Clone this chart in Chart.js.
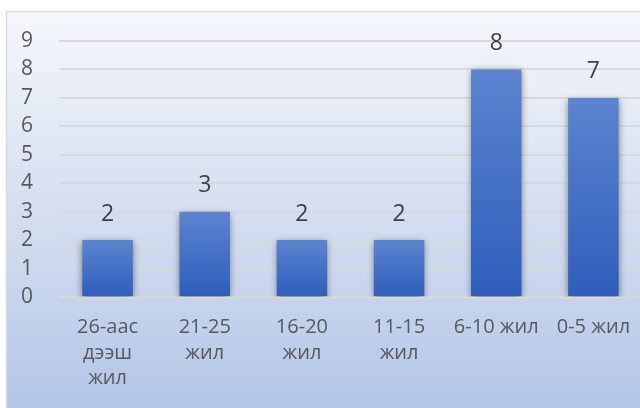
<!DOCTYPE html>
<html>
<head>
<meta charset="utf-8">
<script src="https://cdn.jsdelivr.net/npm/chart.js"></script>
<style>
  html, body { margin: 0; padding: 0; background: #fff; overflow: hidden; }
  #wrap { width: 640px; height: 408px; overflow: hidden; }
</style>
</head>
<body>
<div id="wrap"><canvas id="chart" width="642" height="408"></canvas></div>
<script>
// data
var categories = [['26-аас', 'дээш', 'жил'], ['21-25', 'жил'], ['16-20', 'жил'], ['11-15', 'жил'], ['6-10 жил'], ['0-5 жил']];
var values = [2, 3, 2, 2, 8, 7];
var yTicks = [0, 1, 2, 3, 4, 5, 6, 7, 8, 9];

var FONT = "'Open Sans', 'Noto Sans', sans-serif";

// background + border
var bgPlugin = {
  id: 'bg',
  beforeDraw: function(chart) {
    var ctx = chart.ctx;
    ctx.save();
    ctx.fillStyle = '#ffffff';
    ctx.fillRect(0, 0, chart.width, chart.height);
    var g = ctx.createLinearGradient(0, 11, 0, 420);
    g.addColorStop(0, '#f5f7fb');
    g.addColorStop(0.5, '#d4def0');
    g.addColorStop(1, '#b1c4e6');
    ctx.fillStyle = g;
    ctx.fillRect(6, 11, chart.width, chart.height);
    ctx.strokeStyle = '#d9d9d9';
    ctx.lineWidth = 1.5;
    ctx.strokeRect(6.5, 11.5, chart.width + 10, chart.height + 10);
    ctx.restore();
  }
};

// shadow under bars
var shadowPlugin = {
  id: 'shadow',
  beforeDatasetsDraw: function(chart) {
    var ctx = chart.ctx;
    ctx.save();
    ctx.shadowColor = 'rgba(0,0,0,0.45)';
    ctx.shadowBlur = 7;
    ctx.shadowOffsetX = 0;
    ctx.shadowOffsetY = 2;
  },
  afterDatasetsDraw: function(chart) {
    chart.ctx.restore();
  }
};

// value labels above bars
var labelPlugin = {
  id: 'valueLabels',
  afterDatasetsDraw: function(chart) {
    var ctx = chart.ctx;
    var meta = chart.getDatasetMeta(0);
    ctx.save();
    ctx.fillStyle = '#404040';
    ctx.font = '23px ' + FONT;
    ctx.textAlign = 'center';
    ctx.textBaseline = 'middle';
    meta.data.forEach(function(bar, i) {
      ctx.fillText(String(values[i]), bar.x, bar.y - 26);
    });
    ctx.restore();
  }
};

var ctx = document.getElementById('chart');
var chart = new Chart(ctx, {
  type: 'bar',
  data: {
    labels: categories,
    datasets: [{
      data: values,
      backgroundColor: function(c) {
        var ys = c.chart.scales.y;
        if (!ys || c.raw == null) return '#4472c4';
        var top = ys.getPixelForValue(c.raw);
        var bot = ys.getPixelForValue(0);
        if (!isFinite(top) || !isFinite(bot)) return '#4472c4';
        var g = c.chart.ctx.createLinearGradient(0, top, 0, bot);
        g.addColorStop(0, '#5c84cf');
        g.addColorStop(1, '#2e5ebc');
        return g;
      },
      borderWidth: 0,
      categoryPercentage: 1,
      barPercentage: 0.52
    }]
  },
  options: {
    responsive: false,
    animation: false,
    layout: { padding: { top: 41, left: 0, right: 0, bottom: 0 } },
    plugins: {
      legend: { display: false },
      tooltip: { enabled: false }
    },
    scales: {
      x: {
        grid: { display: false, drawTicks: false },
        border: { display: true, color: '#d9d9d9', width: 2.5 },
        ticks: {
          color: '#595959',
          font: { family: FONT, size: 20, lineHeight: 1.275 },
          padding: 18,
          maxRotation: 0,
          autoSkip: false
        },
        afterFit: function(axis) {
          axis.height = 111;
          axis.paddingLeft = 0;
          axis.paddingRight = 0;
        }
      },
      y: {
        min: 0,
        max: 9,
        afterBuildTicks: function(axis) {
          axis.ticks = yTicks.map(function(v) { return { value: v }; });
        },
        grid: { color: '#d9d9d9', lineWidth: 2, drawTicks: false },
        border: { display: false },
        ticks: {
          color: '#595959',
          font: { family: FONT, size: 21 },
          padding: 26
        },
        afterFit: function(axis) { axis.width = 59; }
      }
    }
  },
  plugins: [bgPlugin, shadowPlugin, labelPlugin]
});
</script>
</body>
</html>
